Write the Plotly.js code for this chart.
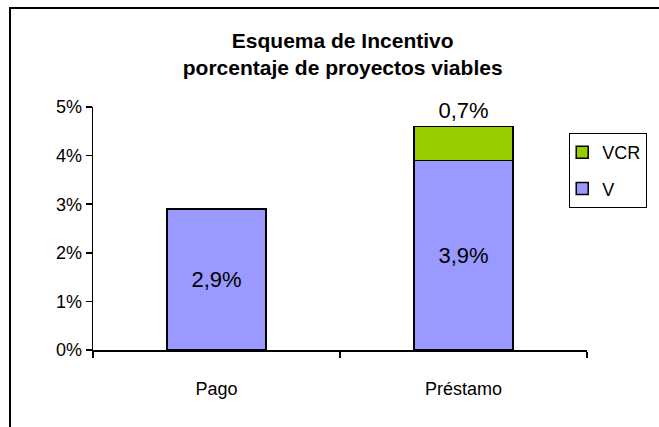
<!DOCTYPE html>
<html>
<head>
<meta charset="utf-8">
<script src="https://cdn.plot.ly/plotly-3.0.1.min.js"></script>
<style>
  html, body { margin: 0; padding: 0; background: #fff; overflow: hidden; }
  #chart { position: absolute; left: 0; top: 0; width: 659px; height: 427px; }
  #frame { position: absolute; left: 9px; top: 7px; width: 700px; height: 500px;
           border: 2px solid #000; pointer-events: none; }
</style>
</head>
<body>
<div id="chart"></div>
<div id="frame"></div>
<script>
const categories = ["Pago", "Préstamo"];
const seriesV = [0.029, 0.039];
const seriesVCR = [null, 0.007];
const seriesNames = ["V", "VCR"];
const yTickVals = [0, 0.01, 0.02, 0.03, 0.04, 0.05];

const FONT = "Arial, 'Liberation Sans', sans-serif";

const traces = [
  {
    type: "bar", name: seriesNames[0], x: categories, y: seriesV,
    legendgroup: "g1", legendrank: 2,
    marker: { color: "#9999FF", line: { color: "#000", width: 1.5 } },
    texttemplate: "%{y:.1%}", textposition: "inside", insidetextanchor: "middle",
    textfont: { family: FONT, size: 22, color: "#000" },
    hoverinfo: "none"
  },
  {
    type: "bar", name: seriesNames[1], x: categories, y: seriesVCR,
    legendgroup: "g2", legendrank: 1,
    marker: { color: "#99CC00", line: { color: "#000", width: 1.5 } },
    texttemplate: "%{y:.1%}", textposition: "outside",
    textfont: { family: FONT, size: 22, color: "#000" },
    cliponaxis: false,
    hoverinfo: "none"
  }
];

const layout = {
  width: 659, height: 427,
  separators: ",.",
  barmode: "stack",
  bargap: 0.6,
  paper_bgcolor: "#fff", plot_bgcolor: "#fff",
  margin: { l: 93, r: 67, t: 107, b: 77 },
  font: { family: FONT, color: "#000", size: 18 },
  title: {
    text: "<b>Esquema de Incentivo</b><br><b>porcentaje de proyectos viables</b>",
    font: { family: FONT, size: 21, color: "#000" },
    x: 0.52, xanchor: "center", xref: "container",
    y: 1 - 48 / 427, yanchor: "top", yref: "container"
  },
  xaxis: {
    type: "category",
    showline: true, linecolor: "#000", linewidth: 1.5,
    ticks: "outside", tickson: "boundaries", ticklen: 6, tickcolor: "#000", tickwidth: 1.5,
    ticklabelstandoff: 22,
    showgrid: false, zeroline: false,
    tickfont: { family: FONT, size: 18, color: "#000" }
  },
  yaxis: {
    range: [0, 0.05],
    tickvals: yTickVals, tickformat: ".0%",
    showline: true, linecolor: "#000", linewidth: 1.5,
    ticks: "outside", ticklen: 6, tickcolor: "#000", tickwidth: 1.5,
    showgrid: false, zeroline: false,
    tickfont: { family: FONT, size: 18, color: "#000" }
  },
  legend: {
    x: 0.964, xanchor: "left", y: 0.893, yanchor: "top",
    bordercolor: "#000", borderwidth: 1, bgcolor: "#fff",
    traceorder: "grouped", tracegroupgap: 10,
    indentation: -8,
    font: { family: FONT, size: 18, color: "#000" },
    itemwidth: 30
  },
  showlegend: true
};

Plotly.newPlot("chart", traces, layout, { displayModeBar: false, staticPlot: true });
</script>
</body>
</html>
